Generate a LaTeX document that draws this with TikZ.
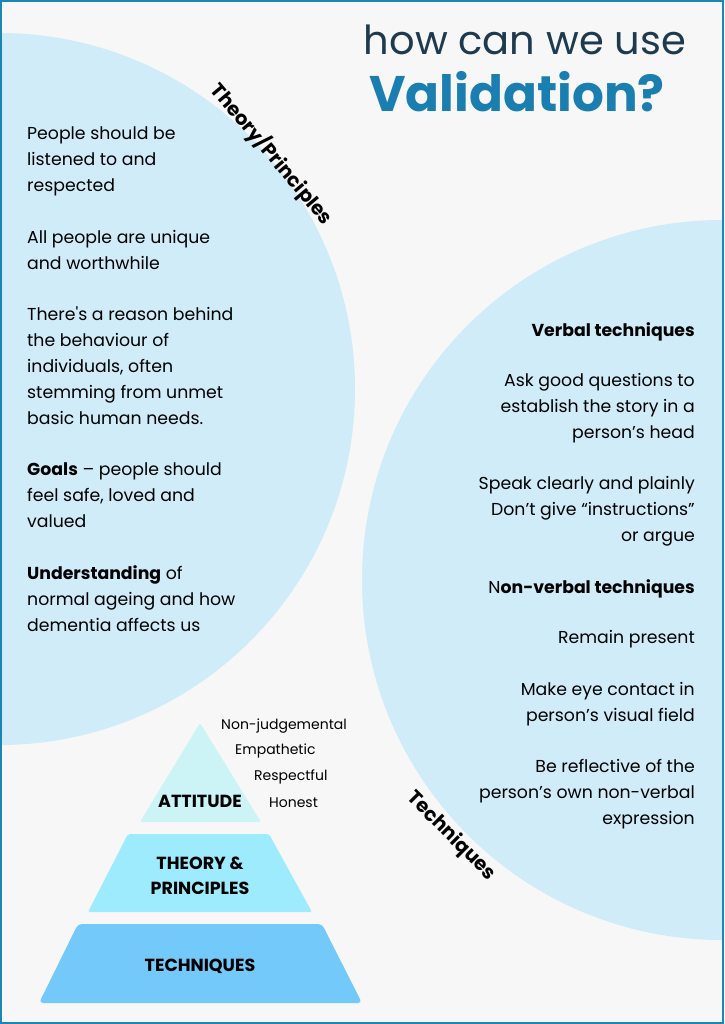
\documentclass[tikz,border=0pt]{standalone}
\usepackage{fontspec}
\setmainfont{Poppins}
\newfontfamily\bodyfont{Poppins}
\definecolor{bgpage}{HTML}{F7F7F7}
\definecolor{frame}{HTML}{1C86B4}
\definecolor{bubble}{HTML}{CFECF8}
\definecolor{titlenavy}{HTML}{1E3A4E}
\definecolor{titleblue}{HTML}{1A7EB0}
\definecolor{tierA}{HTML}{CCF3F6}
\definecolor{tierB}{HTML}{9DEBFC}
\definecolor{tierC}{HTML}{72C9FA}
\tikzset{
  body/.style={font=\bodyfont\fontsize{17.3}{26}\selectfont, inner sep=0pt},
  lpara/.style={body, anchor=north west, align=left},
  rpara/.style={body, anchor=north east, align=right},
  small/.style={font=\bodyfont\fontsize{14}{18}\selectfont, inner sep=0pt, anchor=west},
  tier/.style={font=\bodyfont\bfseries\fontsize{17.5}{25}\selectfont, align=center, inner sep=0pt},
  arclabel/.style={font=\bfseries\fontsize{19.5}{22}\selectfont, inner sep=0pt}
}
\begin{document}
\begin{tikzpicture}[x=1pt,y=-1pt]
\useasboundingbox (0,0) rectangle (724,1024);
\fill[bgpage] (0,0) rectangle (724,1024);
\begin{scope}
\clip (0,0) rectangle (724,1024);
\fill[bubble] (-1,389) circle (356);
\fill[bubble] (722,580) circle (360);
\end{scope}
\draw[frame, line width=2pt] (1,1) rectangle (723,1023);

% title
\node[anchor=base east, inner sep=0pt, text=titlenavy, font=\fontsize{40}{44}\selectfont] (t1) at (686,55) {how can we use};
\node[anchor=base east, inner sep=0pt, text=titleblue, font=\bfseries\fontsize{50}{54}\selectfont] (t2) at (665,112) {Validation?};

% curved labels
\node[arclabel, rotate=-50] (lt) at (272,154) {Theory/Principles};
\node[arclabel, rotate=-45] (rt) at (451,836) {Techniques};

% left column
\node[lpara] (p1) at (27,126) {People should be\\listened to and\\respected};
\node[lpara] (p2) at (27,230) {All people are unique\\and worthwhile};
\node[lpara] (p3) at (27,307) {There's a reason behind\\the behaviour of\\individuals, often\\stemming from unmet\\basic human needs.};
\node[lpara] (p4) at (27,462) {\textbf{Goals} \textendash{} people should\\feel safe, loved and\\valued};
\node[lpara] (p5) at (27,565) {\textbf{Understanding} of\\normal ageing and how\\dementia affects us};

% right column
\node[rpara] (q1) at (695,322) {\textbf{Verbal techniques}};
\node[rpara] (q2) at (695,373) {Ask good questions to\\establish the story in a\\person’s head};
\node[rpara] (q3) at (695,476) {Speak clearly and plainly\\Don’t give “instructions”\\or argue};
\node[rpara] (q4) at (695,579) {N\textbf{on-verbal techniques}};
\node[rpara] (q5) at (695,630) {Remain present};
\node[rpara] (q6) at (695,682) {Make eye contact in\\person’s visual field};
\node[rpara] (q7) at (695,759) {Be reflective of the\\person’s own non-verbal\\expression};

% pyramid
\fill[tierA, rounded corners=2pt] (200,723) -- (261,822) -- (140,822) -- cycle;
\fill[tierB, rounded corners=2pt] (128,834) -- (269,834) -- (312,912) -- (88,912) -- cycle;
\fill[tierC, rounded corners=4pt] (78,924) -- (322,924) -- (362,1003) -- (39,1003) -- cycle;
\node[tier] (ta) at (200,801) {ATTITUDE};
\node[tier] (tb) at (200,876) {THEORY \&\\PRINCIPLES};
\node[tier] (tc) at (200,966) {TECHNIQUES};

% attitude words
\node[small] (w1) at (221,726) {Non-judgemental};
\node[small] (w2) at (235,751) {Empathetic};
\node[small] (w3) at (254,777) {Respectful};
\node[small] (w4) at (269,803) {Honest};
\end{tikzpicture}
\end{document}
